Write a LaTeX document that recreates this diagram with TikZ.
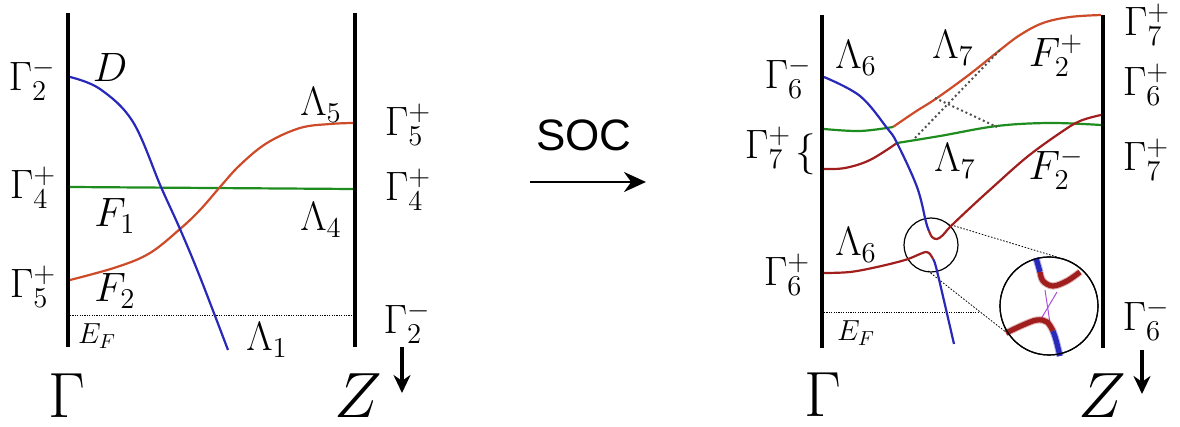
\RequirePackage{fix-cm}
\documentclass[tikz,border=0pt]{standalone}
\usepackage{fontspec}
\newfontfamily\socfont{Liberation Sans}
\usetikzlibrary{arrows.meta}
\definecolor{bblue}{RGB}{40,40,185}
\definecolor{bgreen}{RGB}{30,140,30}
\definecolor{borange}{RGB}{205,75,40}
\definecolor{bdred}{RGB}{160,30,30}
\definecolor{bpurple}{RGB}{170,80,220}
\definecolor{dotgray}{RGB}{80,80,80}
\begin{document}
\begin{tikzpicture}[x=0.5pt,y=-0.5pt,
  axis/.style={line width=2.2pt},
  band/.style={line width=1.1pt},
  lbl/.style={font=\fontsize{20.5}{24}\selectfont, inner sep=0pt},
  biglbl/.style={font=\fontsize{32}{38}\selectfont, inner sep=0pt},
  smalllbl/.style={font=\fontsize{14.5}{17}\selectfont, inner sep=0pt},
  efline/.style={line width=0.4pt, dash pattern=on 0.6pt off 0.6pt},
  conel/.style={line width=0.4pt, dash pattern=on 0.8pt off 0.8pt},
  dotl/.style={line width=1pt, dotgray, dash pattern=on 1pt off 1.4pt},
  downarrow/.style={line width=1.6pt, -{Stealth[length=9pt,width=8.5pt]}},
  socarrow/.style={line width=1.2pt, -{Stealth[length=11pt,width=10pt]}},
  zoomband/.style={line width=2.6pt},
]
\useasboundingbox (0,0) rectangle (1180,427);
% ================= LEFT PANEL =================
\coordinate (LGt) at (68,13); \coordinate (LGb) at (68,347);
\coordinate (LZt) at (355,13); \coordinate (LZb) at (355,347);
\draw[efline] (70,315) coordinate (lef1) -- (355,315) coordinate (lef2);
\draw[band, bgreen] (70,187) -- (353,189);
\draw[band, borange] plot[smooth, tension=0.6] coordinates {(70,280) (117,267) (150,253) (180,229) (200,210) (220,187) (240,165) (267,143) (300,128) (330,124) (353,123)};
\draw[band, bblue] plot[smooth, tension=0.6] coordinates {(70,77) (100,89) (133,122) (161,187) (180,229) (200,277) (228,350)};
\draw[axis] (LGt) -- (LGb);
\draw[axis] (LZt) -- (LZb);
\node[lbl] (lg2m) at (32,80) {$\Gamma_2^-$};
\node[lbl] (lD) at (110,67) {$D$};
\node[lbl] (lL5) at (321,105) {$\Lambda_5$};
\node[lbl] (lg5pr) at (408,125) {$\Gamma_5^+$};
\node[lbl] (lg4pl) at (33,188) {$\Gamma_4^+$};
\node[lbl] (lg4pr) at (408,190) {$\Gamma_4^+$};
\node[lbl] (lF1) at (115,216) {$F_1$};
\node[lbl] (lL4) at (321,220) {$\Lambda_4$};
\node[lbl] (lg5pl) at (33,287) {$\Gamma_5^+$};
\node[lbl] (lF2) at (115,291) {$F_2$};
\node[lbl] (lg2mr) at (407,323) {$\Gamma_2^-$};
\node[smalllbl] (lEF) at (97,336) {$E_F$};
\node[lbl] (lL1) at (267,340) {$\Lambda_1$};
\node[biglbl] (lGam) at (67,396) {$\Gamma$};
\node[biglbl] (lZ) at (358,396) {$Z$};
\coordinate (lda1) at (402,347); \coordinate (lda2) at (402,393);
\draw[downarrow] (lda1) -- (lda2);
% ================= SOC ARROW =================
\node[inner sep=0pt, font=\socfont\fontsize{22}{26}\selectfont] (soc) at (584,135) {SOC};
\coordinate (sa1) at (530,182); \coordinate (sa2) at (646,182);
\draw[socarrow] (sa1) -- (sa2);
% ================= RIGHT PANEL =================
\coordinate (RGt) at (822,15); \coordinate (RGb) at (822,348);
\coordinate (RZt) at (1103,15); \coordinate (RZb) at (1103,348);
\draw[efline] (824,312) coordinate (ref1) -- (980,312) coordinate (ref2);
% small circle and cone
\node[draw, circle, line width=0.6pt, minimum size=27pt, inner sep=0pt] (sc) at (931,245) {};
\node[draw, circle, line width=0.6pt, minimum size=49pt, inner sep=0pt] (bc) at (1049,306) {};
\coordinate (c1a) at (948,224); \coordinate (c1b) at (1057,257);
\coordinate (c2a) at (928,271); \coordinate (c2b) at (1007,333);
\draw[conel] (c1a) -- (c1b);
\draw[conel] (c2a) -- (c2b);
% upper band: green then orange
\draw[band, bgreen] plot[smooth, tension=0.6] coordinates {(824,129) (860,131) (893,127)};
\draw[band, borange] plot[smooth, tension=0.6] coordinates {(893,127) (915,112) (937,98) (970,74) (1000,50) (1020,35) (1043,23) (1070,17) (1101,15)};
% second band: dark red then green
\draw[band, bdred] plot[smooth, tension=0.6] coordinates {(824,169) (845,168) (870,160) (897,143)};
\draw[band, bgreen] plot[smooth, tension=0.6] coordinates {(897,143) (940,136) (997,126) (1050,123) (1101,125)};
% blue into F2-
\draw[band, bblue] plot[smooth, tension=0.6] coordinates {(824,77) (860,96) (887,128) (897,143) (917,187) (926,222) (929,231)};
\draw[band, bdred] plot[smooth, tension=0.6] coordinates {(929,231) (932,237) (937,239) (943,235) (950,227) (970,208) (993,187) (1027,157) (1060,133) (1080,121) (1101,115)};
% lower red into blue
\draw[band, bdred] plot[smooth, tension=0.6] coordinates {(824,273) (850,272) (877,267) (905,260) (920,254) (926,252) (930,254) (933,259)};
\draw[band, bblue] plot[smooth, tension=0.6] coordinates {(933,259) (936,267) (945,305) (954,344)};
% dotted lines
\coordinate (d1a) at (915,138); \coordinate (d1b) at (1000,50);
\coordinate (d2a) at (935,98); \coordinate (d2b) at (997,127);
\draw[dotl] (d1a) -- (d1b);
\draw[dotl] (d2a) -- (d2b);
% zoomed anticrossing
\begin{scope}
\clip (bc.center) circle (48.5pt);
\draw[bpurple, line width=0.5pt] (1045,290) -- (1050,323);
\draw[bpurple, line width=0.5pt] (1057,292) -- (1041,319);
\draw[zoomband, bblue, opacity=0.35, line width=3.6pt] plot[smooth, tension=0.6] coordinates {(1036,258) (1040,272)};
\draw[zoomband, bblue] plot[smooth, tension=0.6] coordinates {(1036,258) (1040,272)};
\draw[zoomband, bdred, opacity=0.35, line width=3.6pt] plot[smooth, tension=0.6] coordinates {(1040,272) (1043,281) (1053,286) (1067,281) (1080,272)};
\draw[zoomband, bdred] plot[smooth, tension=0.6] coordinates {(1040,272) (1043,281) (1053,286) (1067,281) (1080,272)};
\draw[zoomband, bdred, opacity=0.35, line width=3.6pt] plot[smooth, tension=0.6] coordinates {(1006,333) (1023,325) (1037,320) (1047,322) (1053,331)};
\draw[zoomband, bdred] plot[smooth, tension=0.6] coordinates {(1006,333) (1023,325) (1037,320) (1047,322) (1053,331)};
\draw[zoomband, bblue, opacity=0.35, line width=3.6pt] plot[smooth, tension=0.6] coordinates {(1053,331) (1056,340) (1060,356)};
\draw[zoomband, bblue] plot[smooth, tension=0.6] coordinates {(1053,331) (1056,340) (1060,356)};
\end{scope}
\node[draw, circle, line width=0.6pt, minimum size=49pt, inner sep=0pt] at (bc.center) {};
% axes
\draw[axis] (RGt) -- (RGb);
\draw[axis] (RZt) -- (RZb);
% labels
\node[lbl] (rL6a) at (856,58) {$\Lambda_6$};
\node[lbl] (rL7a) at (953,48) {$\Lambda_7$};
\node[lbl] (rF2p) at (1056,56) {$F_2^+$};
\node[lbl] (rg7pa) at (1147,25) {$\Gamma_7^+$};
\node[lbl] (rg6pa) at (1146,85) {$\Gamma_6^+$};
\node[lbl] (rg6ml) at (788,78) {$\Gamma_6^-$};
\node[lbl] (rg7pl) at (768,148) {$\Gamma_7^+$};
\node[lbl] (rbrace) at (806,154) {$\{$};
\node[lbl] (rL7b) at (955,161) {$\Lambda_7$};
\node[lbl] (rF2m) at (1056,169) {$F_2^-$};
\node[lbl] (rg7pb) at (1146,160) {$\Gamma_7^+$};
\node[lbl] (rL6b) at (856,245) {$\Lambda_6$};
\node[lbl] (rg6pl) at (787,275) {$\Gamma_6^+$};
\node[smalllbl] (rEF) at (856,333) {$E_F$};
\node[lbl] (rg6mr) at (1146,320) {$\Gamma_6^-$};
\node[biglbl] (rGam) at (823,395) {$\Gamma$};
\node[biglbl] (rZ) at (1102,396) {$Z$};
\coordinate (rda1) at (1142,350); \coordinate (rda2) at (1142,394);
\draw[downarrow] (rda1) -- (rda2);
\end{tikzpicture}
\end{document}
